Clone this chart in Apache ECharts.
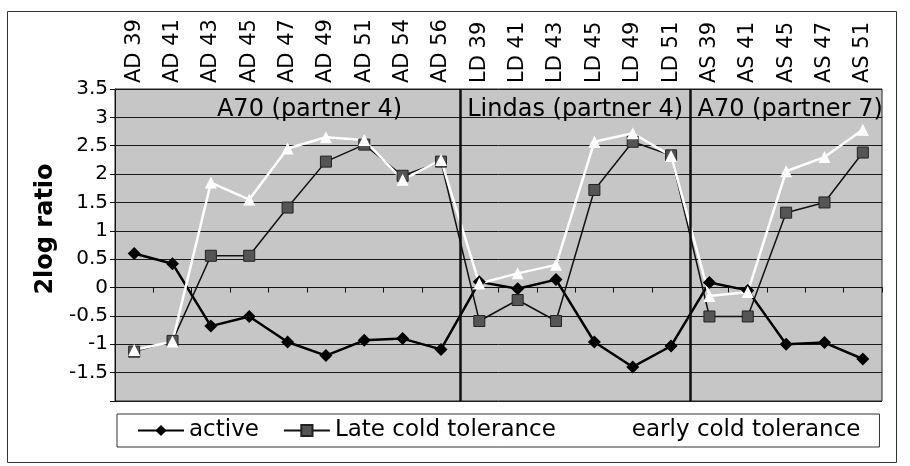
<!DOCTYPE html>
<html>
<head>
<meta charset="utf-8">
<script src="https://cdn.jsdelivr.net/npm/echarts@6/dist/echarts.min.js"></script>
<style>
  html, body { margin: 0; padding: 0; background: #ffffff; }
  #chart { width: 910px; height: 466px; }
</style>
</head>
<body>
<div id="chart"></div>
<script>
// ---- data ----
const categories = ['AD 39', 'AD 41', 'AD 43', 'AD 45', 'AD 47', 'AD 49', 'AD 51', 'AD 54', 'AD 56',
                    'LD 39', 'LD 41', 'LD 43', 'LD 45', 'LD 49', 'LD 51',
                    'AS 39', 'AS 41', 'AS 45', 'AS 47', 'AS 51'];
const activeValues = [0.6, 0.42, -0.68, -0.51, -0.96, -1.2, -0.93, -0.9, -1.09,
                      0.1, -0.02, 0.14, -0.96, -1.4, -1.03,
                      0.09, -0.05, -1.0, -0.97, -1.26];
const lateValues = [-1.13, -0.94, 0.56, 0.56, 1.41, 2.22, 2.52, 1.97, 2.22,
                    -0.59, -0.22, -0.59, 1.72, 2.57, 2.33,
                    -0.51, -0.51, 1.32, 1.5, 2.38];
const earlyValues = [-1.1, -0.95, 1.85, 1.55, 2.45, 2.65, 2.6, 1.9, 2.25,
                     0.07, 0.25, 0.4, 2.57, 2.72, 2.32,
                     -0.15, -0.08, 2.05, 2.3, 2.78];
const seriesNames = ['active', 'Late cold tolerance', 'early cold tolerance'];
const groupNames = ['A70 (partner 4)', 'Lindas (partner 4)', 'A70 (partner 7)'];
const groupStarts = [0, 9, 15];
const groupEnds = [9, 15, 20];
const yMin = -2, yMax = 3.5, yStep = 0.5;
const yTitle = '2log ratio';

const FONT = '"DejaVu Sans", "Liberation Sans", Arial, sans-serif';
const chart = echarts.init(document.getElementById('chart'));

const groupLabelShift = [22, 0, 4];
const areaData = groupNames.map((n, i) => [
  { name: n, xAxis: groupStarts[i], label: { offset: [groupLabelShift[i], 0] } },
  { xAxis: groupEnds[i] }
]);
const lineData = groupStarts.slice(1).map(v => ({ xAxis: v }));

const option = {
  animation: false,
  backgroundColor: '#ffffff',
  graphic: [{
    type: 'rect', z: -10,
    shape: { x: 7.5, y: 11.5, width: 889, height: 451 },
    style: { fill: 'none', stroke: '#333', lineWidth: 1 }
  }],
  grid: {
    left: 115, right: 28, top: 89, bottom: 65,
    show: true, backgroundColor: '#c6c6c6', borderColor: '#222', borderWidth: 1
  },
  legend: {
    data: seriesNames,
    left: 117, top: 414,
    padding: [5, 19, 5, 20],
    itemGap: 24, itemWidth: 46, itemHeight: 14,
    borderColor: '#333', borderWidth: 1,
    textStyle: { fontFamily: FONT, fontSize: 23, color: '#000' }
  },
  xAxis: [
    {
      type: 'category', data: categories, position: 'top', boundaryGap: true,
      axisLine: { show: false, onZero: false }, axisTick: { show: false },
      axisLabel: { rotate: -90, margin: 6, fontFamily: FONT, fontSize: 21, color: '#000',
                   interval: 0, padding: [12, 0, 0, 0] }
    },
    {
      type: 'category', data: categories, position: 'bottom', boundaryGap: true,
      axisLine: { show: true, onZero: true, onZeroAxisIndex: 0, lineStyle: { color: '#111', width: 1 } },
      axisTick: { show: true, length: 5, interval: 0, lineStyle: { color: '#111' } },
      axisLabel: { show: false }
    },
    { type: 'value', min: 0, max: categories.length, show: false, axisLine: { onZero: false } }
  ],
  yAxis: {
    type: 'value', min: yMin, max: yMax, interval: yStep,
    name: yTitle, nameLocation: 'middle', nameGap: 54, nameRotate: 90,
    nameTextStyle: { fontFamily: FONT, fontSize: 24, fontWeight: 'bold', color: '#000',
                     padding: [0, 0, 0, 32] },
    axisLine: { show: true, onZero: false, lineStyle: { color: '#111', width: 1 } },
    axisTick: { show: true, length: 5, lineStyle: { color: '#111' } },
    axisLabel: {
      fontFamily: FONT, fontSize: 20, color: '#000', margin: 7,
      formatter: v => (Math.abs(v - yMin) < 1e-9 ? '' : String(v))
    },
    splitLine: { show: true, lineStyle: { color: '#1a1a1a', width: 1 } }
  },
  series: [
    {
      name: 'groups', type: 'line', data: [], xAxisIndex: 2, silent: true,
      markLine: {
        silent: true, symbol: ['none', 'none'], label: { show: false },
        lineStyle: { color: '#111', width: 2.5, type: 'solid' },
        data: lineData
      },
      markArea: {
        silent: true, itemStyle: { color: 'rgba(0,0,0,0)' },
        label: { show: true, position: 'insideTop', distance: 9,
                 fontFamily: FONT, fontSize: 24, color: '#000' },
        data: areaData
      }
    },
    {
      name: seriesNames[0], type: 'line', data: activeValues,
      symbol: 'diamond', symbolSize: 13,
      lineStyle: { color: '#000', width: 2.5 },
      itemStyle: { color: '#000' }
    },
    {
      name: seriesNames[1], type: 'line', data: lateValues,
      symbol: 'rect', symbolSize: 11,
      lineStyle: { color: '#111', width: 1.5 },
      itemStyle: { color: '#555', borderColor: '#222', borderWidth: 1 }
    },
    {
      name: seriesNames[2], type: 'line', data: earlyValues,
      symbol: 'triangle', symbolSize: 12,
      lineStyle: { color: '#ffffff', width: 2.5 },
      itemStyle: { color: '#ffffff' }
    }
  ]
};
chart.setOption(option);
</script>
</body>
</html>
